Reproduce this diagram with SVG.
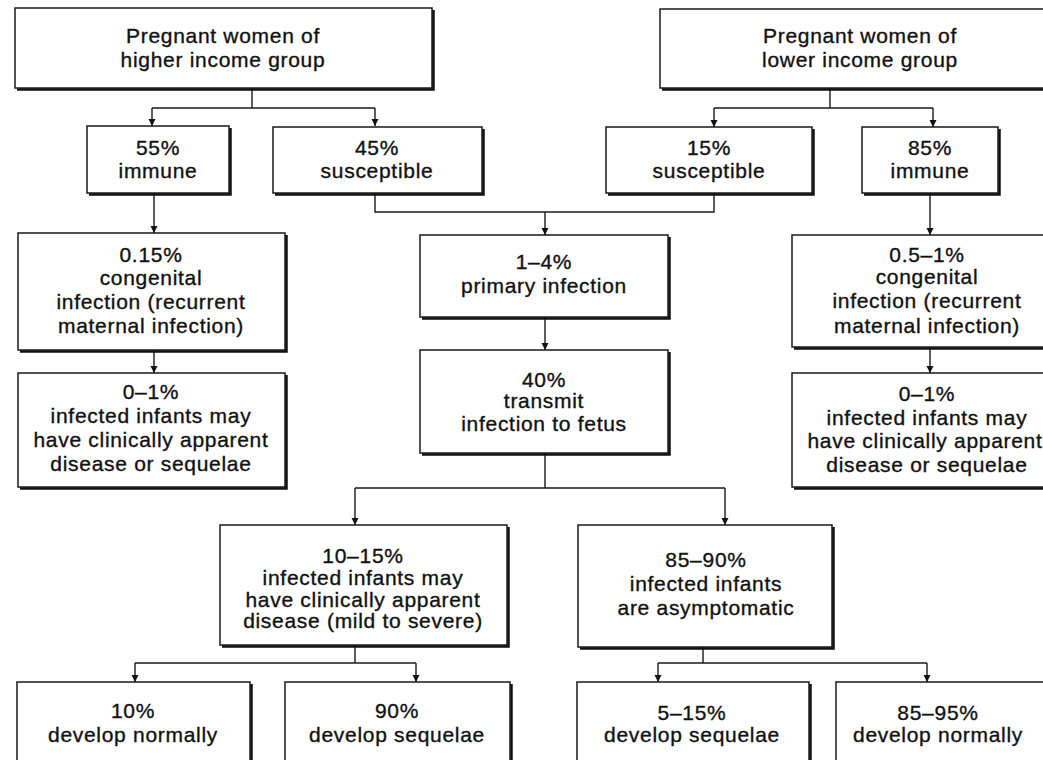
<svg xmlns="http://www.w3.org/2000/svg" width="1043" height="760" viewBox="0 0 1043 760">
<style>
.box{fill:#fff;stroke:#1a1a1a;stroke-width:1.5}
.sh{fill:none;stroke:#111;stroke-width:2.5}
.t{font-family:"Liberation Sans",Arial,sans-serif;font-size:21px;letter-spacing:0.7px;fill:#111;stroke:#111;stroke-width:0.35;text-anchor:middle}
.c{fill:none;stroke:#1a1a1a;stroke-width:1.4}
</style>
<defs>
<marker id="a" markerUnits="userSpaceOnUse" markerWidth="8" markerHeight="8" refX="7" refY="3.5" orient="auto" viewBox="0 0 8 7">
<path d="M0 0 L7 3.5 L0 7 Z" fill="#111"/>
</marker>
</defs>
<rect width="1043" height="760" fill="#fff"/>

<g id="connectors">
<path class="c" d="M252 88 V108 M152 108 H375"/>
<path class="c" d="M152 108 V126" marker-end="url(#a)"/>
<path class="c" d="M375 108 V126" marker-end="url(#a)"/>
<path class="c" d="M830 88 V108 M714 108 H933"/>
<path class="c" d="M714 108 V127" marker-end="url(#a)"/>
<path class="c" d="M933 108 V127" marker-end="url(#a)"/>
<path class="c" d="M154 193 V233" marker-end="url(#a)"/>
<path class="c" d="M154 350 V373" marker-end="url(#a)"/>
<path class="c" d="M375 193 V212 H714 V193"/>
<path class="c" d="M545 212 V235" marker-end="url(#a)"/>
<path class="c" d="M930 193 V235" marker-end="url(#a)"/>
<path class="c" d="M930 347 V373" marker-end="url(#a)"/>
<path class="c" d="M545 317 V350" marker-end="url(#a)"/>
<path class="c" d="M545 453 V488 M355 488 H725"/>
<path class="c" d="M355 488 V525" marker-end="url(#a)"/>
<path class="c" d="M725 488 V525" marker-end="url(#a)"/>
<path class="c" d="M355 645 V663 M135 663 H416"/>
<path class="c" d="M135 663 V682" marker-end="url(#a)"/>
<path class="c" d="M416 663 V682" marker-end="url(#a)"/>
<path class="c" d="M703 647 V663 M658 663 H927"/>
<path class="c" d="M658 663 V682" marker-end="url(#a)"/>
<path class="c" d="M927 663 V682" marker-end="url(#a)"/>
</g>

<g id="high">
<rect class="box" x="15" y="8" width="417" height="80"/>
<path class="sh" d="M433.5 10 V89.5 H17"/>
<text class="t" x="223" y="43">Pregnant women of</text>
<text class="t" x="223" y="67">higher income group</text>
</g>

<g id="low">
<rect class="box" x="660" y="9" width="400" height="79"/>
<path class="sh" d="M662 89.5 H1060"/>
<text class="t" x="860" y="43">Pregnant women of</text>
<text class="t" x="860" y="67">lower income group</text>
</g>

<g id="immune55">
<rect class="box" x="87" y="126" width="142" height="67"/>
<path class="sh" d="M230.5 128 V194.5 H89"/>
<text class="t" x="158" y="155">55%</text>
<text class="t" x="158" y="178">immune</text>
</g>

<g id="susc45">
<rect class="box" x="273" y="127" width="209" height="66"/>
<path class="sh" d="M483.5 129 V194.5 H275"/>
<text class="t" x="377" y="155">45%</text>
<text class="t" x="377" y="178">susceptible</text>
</g>

<g id="susc15">
<rect class="box" x="606" y="127" width="206" height="66"/>
<path class="sh" d="M813.5 129 V194.5 H608"/>
<text class="t" x="709" y="155">15%</text>
<text class="t" x="709" y="178">susceptible</text>
</g>

<g id="immune85">
<rect class="box" x="862" y="127" width="136" height="66"/>
<path class="sh" d="M999.5 129 V194.5 H864"/>
<text class="t" x="930" y="155">85%</text>
<text class="t" x="930" y="178">immune</text>
</g>

<g id="cong015">
<rect class="box" x="18" y="233" width="267" height="117"/>
<path class="sh" d="M286.5 235 V351.5 H20"/>
<text class="t" x="151" y="262">0.15%</text>
<text class="t" x="151" y="285">congenital</text>
<text class="t" x="151" y="309">infection (recurrent</text>
<text class="t" x="151" y="333">maternal infection)</text>
</g>

<g id="primary">
<rect class="box" x="420" y="235" width="248" height="82"/>
<path class="sh" d="M669.5 237 V318.5 H422"/>
<text class="t" x="544" y="269">1–4%</text>
<text class="t" x="544" y="293">primary infection</text>
</g>

<g id="cong05">
<rect class="box" x="792" y="235" width="270" height="112"/>
<path class="sh" d="M794 348.5 H1062"/>
<text class="t" x="927" y="262">0.5–1%</text>
<text class="t" x="927" y="284">congenital</text>
<text class="t" x="927" y="308">infection (recurrent</text>
<text class="t" x="927" y="333">maternal infection)</text>
</g>

<g id="infL">
<rect class="box" x="18" y="373" width="267" height="114"/>
<path class="sh" d="M286.5 375 V488.5 H20"/>
<text class="t" x="151" y="399">0–1%</text>
<text class="t" x="151" y="423">infected infants may</text>
<text class="t" x="151" y="447">have clinically apparent</text>
<text class="t" x="151" y="471">disease or sequelae</text>
</g>

<g id="transmit">
<rect class="box" x="420" y="350" width="248" height="103"/>
<path class="sh" d="M669.5 352 V454.5 H422"/>
<text class="t" x="544" y="387">40%</text>
<text class="t" x="544" y="408">transmit</text>
<text class="t" x="544" y="431">infection to fetus</text>
</g>

<g id="infR">
<rect class="box" x="792" y="373" width="270" height="114"/>
<path class="sh" d="M794 488.5 H1062"/>
<text class="t" x="927" y="401">0–1%</text>
<text class="t" x="927" y="425">infected infants may</text>
<text class="t" x="925" y="448">have clinically apparent</text>
<text class="t" x="927" y="472">disease or sequelae</text>
</g>

<g id="clin">
<rect class="box" x="220" y="525" width="287" height="120"/>
<path class="sh" d="M508.5 527 V646.5 H222"/>
<text class="t" x="363" y="563">10–15%</text>
<text class="t" x="363" y="585">infected infants may</text>
<text class="t" x="363" y="607">have clinically apparent</text>
<text class="t" x="363" y="628">disease (mild to severe)</text>
</g>

<g id="asym">
<rect class="box" x="578" y="525" width="254" height="122"/>
<path class="sh" d="M833.5 527 V648.5 H580"/>
<text class="t" x="706" y="567">85–90%</text>
<text class="t" x="706" y="591">infected infants</text>
<text class="t" x="706" y="615">are asymptomatic</text>
</g>

<g id="normal10">
<rect class="box" x="17" y="682" width="233" height="100"/>
<path class="sh" d="M251.5 684 V782"/>
<text class="t" x="133" y="718">10%</text>
<text class="t" x="133" y="742">develop normally</text>
</g>

<g id="seq90">
<rect class="box" x="285" y="682" width="225" height="100"/>
<path class="sh" d="M511.5 684 V782"/>
<text class="t" x="397" y="718">90%</text>
<text class="t" x="397" y="742">develop sequelae</text>
</g>

<g id="seq515">
<rect class="box" x="577" y="682" width="232" height="100"/>
<path class="sh" d="M810.5 684 V782"/>
<text class="t" x="692" y="720">5–15%</text>
<text class="t" x="692" y="742">develop sequelae</text>
</g>

<g id="normal8595">
<rect class="box" x="836" y="682" width="230" height="100"/>
<text class="t" x="938" y="720">85–95%</text>
<text class="t" x="938" y="742">develop normally</text>
</g>
</svg>
